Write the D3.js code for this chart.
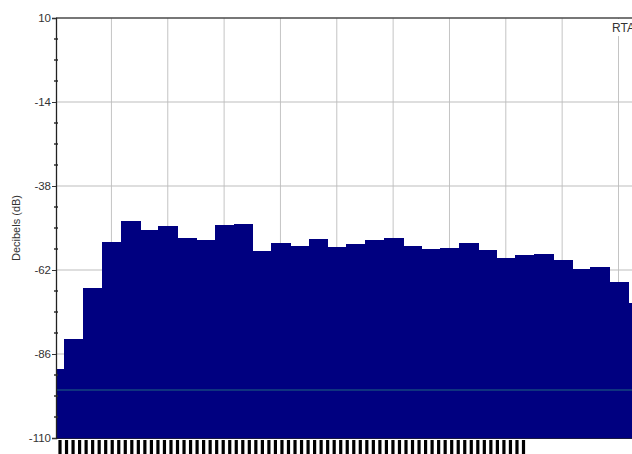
<!DOCTYPE html>
<meta charset="utf-8">
<title>RTA</title>
<style>
  body { margin: 0; background: #fff; }
  text { font-family: "Liberation Sans", Arial, sans-serif; }
</style>
<body>
<div id="chart"></div>
<script src="https://d3js.org/d3.v7.min.js"></script>
<script>

// 1/3 octave bands (Hz)
var bands = ["16", "20", "25", "31.5", "40", "50", "63", "80", "100", "125", "160", "200",
  "250", "315", "400", "500", "630", "800", "1k", "1.25k", "1.6k", "2k", "2.5k", "3.15k",
  "4k", "5k", "6.3k", "8k", "10k", "12.5k", "16k", "20k"];
// level per band (dB)
var levels = [-90.3, -81.7, -67.2, -54.1, -47.9, -50.5, -49.3, -52.9, -53.3, -49.2, -48.9, -56.5,
  -54.2, -55.2, -53.1, -55.4, -54.5, -53.5, -52.8, -55.2, -56.1, -55.8, -54.4, -56.4,
  -58.6, -57.8, -57.5, -59.1, -61.6, -61.2, -65.3, -71.5];
var octaves = ["31.5", "63", "125", "250", "500", "1k", "2k", "4k", "8k", "16k"];
var yTicks = [10, -14, -38, -62, -86, -110];
var floorLevel = -96.3;
var labelStripes = d3.range(72);

var W = 632, H = 454;
var plotLeft = 56, plotTop = 18, plotBottom = 438;

var svg = d3.select("#chart").append("svg")
  .attr("width", W)
  .attr("height", H);

var x = d3.scaleBand()
  .domain(bands)
  .range([45.7, 45.7 + 18.78 * bands.length])
  .padding(0);

var y = d3.scaleLinear()
  .domain([-110, 10])
  .range([plotBottom, plotTop]);

svg.append("clipPath").attr("id", "plot")
  .append("rect")
    .attr("x", plotLeft).attr("y", plotTop)
    .attr("width", W - plotLeft).attr("height", plotBottom - plotTop);

// grid
var grid = svg.append("g").attr("clip-path", "url(#plot)");
grid.selectAll(".vgrid")
  .data(octaves)
  .enter().append("line")
    .attr("x1", function(d) { return x(d) + x.bandwidth() / 2; })
    .attr("x2", function(d) { return x(d) + x.bandwidth() / 2; })
    .attr("y1", plotTop).attr("y2", plotBottom)
    .style("stroke", "#c4c4c4");
grid.selectAll(".hgrid")
  .data(yTicks.slice(1, -1))
  .enter().append("line")
    .attr("x1", plotLeft).attr("x2", W)
    .attr("y1", function(d) { return y(d); })
    .attr("y2", function(d) { return y(d); })
    .style("stroke", "#bdbdbd");

// bars
svg.append("g").attr("clip-path", "url(#plot)")
  .selectAll("rect")
  .data(levels)
  .enter().append("rect")
    .attr("x", function(d, i) { return x(bands[i]); })
    .attr("width", x.bandwidth() + 1)
    .attr("y", function(d) { return y(d); })
    .attr("height", function(d) { return y(-110) - y(d); })
    .style("fill", "#000080")
    .style("shape-rendering", "crispEdges");

// floor line
svg.append("line")
  .attr("x1", plotLeft).attr("x2", W)
  .attr("y1", y(floorLevel)).attr("y2", y(floorLevel))
  .style("stroke", "#15457f")
  .style("stroke-width", 1.5);

// top border
svg.append("line")
  .attr("x1", plotLeft).attr("x2", W)
  .attr("y1", plotTop).attr("y2", plotTop)
  .style("stroke", "#4a4a4a")
  .style("stroke-width", 1.5);

// RTA label
svg.append("rect")
  .attr("x", 609).attr("y", plotTop + 1)
  .attr("width", 30).attr("height", 17)
  .style("fill", "#fff");
svg.append("text")
  .attr("x", 612).attr("y", 32)
  .style("font-size", "12px")
  .style("fill", "#333")
  .text("RTA");

// bottom axis line
svg.append("line")
  .attr("x1", plotLeft).attr("x2", W)
  .attr("y1", plotBottom + 0.5).attr("y2", plotBottom + 0.5)
  .style("stroke", "#1a1a40");

// squeezed frequency labels below the axis
var s = d3.scaleLinear().domain([0, labelStripes.length - 1]).range([59.5, 523]);
svg.append("g")
  .attr("transform", "translate(0," + (plotBottom + 2) + ")")
  .call(d3.axisBottom(s).tickValues(labelStripes).tickSize(16).tickFormat(""))
  .call(function(g) { g.select(".domain").remove(); })
  .call(function(g) { g.selectAll(".tick line").style("stroke", "#000").style("stroke-width", 3.2); });

// y axis minor ticks
var minor = d3.range(-110, 11, 6).filter(function(v) { return yTicks.indexOf(v) < 0; });
svg.append("g")
  .attr("transform", "translate(" + plotLeft + ",0)")
  .selectAll("line")
  .data(minor)
  .enter().append("line")
    .attr("x1", -2).attr("x2", 2)
    .attr("y1", function(d) { return y(d); })
    .attr("y2", function(d) { return y(d); })
    .style("stroke", "#333")
    .style("stroke-width", 1.5);

// y axis
var yAxis = svg.append("g")
  .attr("transform", "translate(" + plotLeft + ",0)")
  .call(d3.axisLeft(y).tickValues(yTicks).tickSize(4).tickPadding(1)
    .tickFormat(function(d) { return String(d); }));
yAxis.select(".domain").style("stroke", "#222").style("stroke-width", 1.3);
yAxis.selectAll(".tick line").style("stroke", "#333");
yAxis.selectAll(".tick text")
  .style("font-family", "Liberation Sans, Arial, sans-serif")
  .style("font-size", "11.5px")
  .style("fill", "#333");

svg.append("text")
  .attr("transform", "translate(20,228) rotate(-90)")
  .attr("text-anchor", "middle")
  .style("font-size", "11px")
  .style("fill", "#333")
  .text("Decibels (dB)");

</script>
</body>
